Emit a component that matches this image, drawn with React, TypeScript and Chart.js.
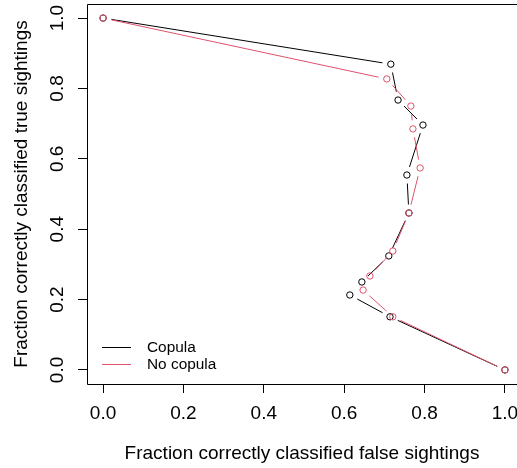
import React, { useEffect, useRef } from "react";
import { Chart, registerables } from "chart.js";

Chart.register(...registerables);

const seriesNames = ["Copula", "No copula"];
const copulaX = [0, 0.716, 0.734, 0.796, 0.756, 0.761, 0.711, 0.644, 0.614, 0.714, 1.0];
const copulaY = [1.0, 0.869, 0.767, 0.696, 0.554, 0.446, 0.324, 0.25, 0.213, 0.151, 0.0];
const noCopulaX = [0, 0.706, 0.766, 0.771, 0.789, 0.761, 0.721, 0.664, 0.647, 0.721, 1.0];
const noCopulaY = [1.0, 0.827, 0.75, 0.685, 0.574, 0.446, 0.338, 0.267, 0.227, 0.151, 0.0];
const xTicks = [0, 0.2, 0.4, 0.6, 0.8, 1.0];
const yTicks = [0, 0.2, 0.4, 0.6, 0.8, 1.0];
const xTitle = "Fraction correctly classified false sightings";
const yTitle = "Fraction correctly classified true sightings";

const FONT = "'Liberation Sans', Arial, Helvetica, sans-serif";
const BLACK = "#000000";
const RED = "#DF536B";

const gapLines = {
  id: "gapLines",
  beforeDatasetDraw(chart: any, args: any) {
    const ds = chart.data.datasets[args.index];
    const pts = args.meta.data;
    const ctx = chart.ctx;
    const gap = 8.5;
    ctx.save();
    ctx.strokeStyle = ds.borderColor;
    ctx.lineWidth = 1;
    for (let i = 0; i < pts.length - 1; i++) {
      const a = pts[i];
      const b = pts[i + 1];
      const dx = b.x - a.x;
      const dy = b.y - a.y;
      const d = Math.hypot(dx, dy);
      if (d <= 2 * gap + 1) continue;
      const ux = dx / d;
      const uy = dy / d;
      ctx.beginPath();
      ctx.moveTo(a.x + ux * gap, a.y + uy * gap);
      ctx.lineTo(b.x - ux * gap, b.y - uy * gap);
      ctx.stroke();
    }
    ctx.restore();
  },
};

const boxAndLegend = {
  id: "boxAndLegend",
  afterDraw(chart: any) {
    const ctx = chart.ctx;
    const { left, top, right, bottom } = chart.chartArea;
    ctx.save();
    ctx.strokeStyle = BLACK;
    ctx.lineWidth = 1;
    ctx.beginPath();
    ctx.moveTo(right + 10, top + 0.5);
    ctx.lineTo(left + 0.5, top + 0.5);
    ctx.lineTo(left + 0.5, bottom + 0.5);
    ctx.lineTo(right + 10, bottom + 0.5);
    ctx.stroke();

    // legend inside plot, bottom-left
    ctx.font = `15.4px ${FONT}`;
    ctx.textBaseline = "middle";
    ctx.textAlign = "left";
    chart.data.datasets.forEach((ds: any, i: number) => {
      const y = bottom - 37 + i * 17;
      ctx.strokeStyle = ds.borderColor;
      ctx.beginPath();
      ctx.moveTo(left + 15, y + 0.5);
      ctx.lineTo(left + 44, y + 0.5);
      ctx.stroke();
      ctx.fillStyle = BLACK;
      ctx.fillText(ds.label, left + 60, y + 1);
    });
    ctx.restore();
  },
};

function toPoints(xs: number[], ys: number[]) {
  return xs.map((x, i) => ({ x, y: ys[i] }));
}

export default function App() {
  const ref = useRef<HTMLCanvasElement | null>(null);

  useEffect(() => {
    document.body.style.margin = "0";
    const canvas = ref.current;
    if (!canvas) return;
    const chart = new Chart(canvas, {
      type: "scatter",
      data: {
        datasets: [
          {
            label: seriesNames[0],
            data: toPoints(copulaX, copulaY),
            borderColor: BLACK,
            backgroundColor: "rgba(0,0,0,0)",
            pointRadius: 3.2,
            pointBorderWidth: 1,
            pointHoverRadius: 3.2,
            showLine: false,
            order: 1,
          },
          {
            label: seriesNames[1],
            data: toPoints(noCopulaX, noCopulaY),
            borderColor: RED,
            backgroundColor: "rgba(0,0,0,0)",
            pointRadius: 3.2,
            pointBorderWidth: 1,
            pointHoverRadius: 3.2,
            showLine: false,
            order: 0,
          },
        ],
      },
      options: {
        responsive: false,
        animation: false,
        events: [],
        layout: { autoPadding: false, padding: { left: 0, top: 4, right: 0, bottom: 0 } },
        plugins: {
          legend: { display: false },
          tooltip: { enabled: false },
        },
        scales: {
          x: {
            type: "linear",
            position: "bottom",
            min: -0.04,
            max: 1.03,
            afterBuildTicks: (s: any) => {
              s.ticks = xTicks.map((v) => ({ value: v }));
            },
            afterFit: (s: any) => {
              s.height = 84;
              s.paddingLeft = 0;
              s.paddingRight = 0;
            },
            grid: {
              drawOnChartArea: false,
              drawTicks: true,
              tickLength: 9,
              color: BLACK,
              lineWidth: 1,
            },
            border: { display: false },
            ticks: {
              autoSkip: false,
              maxRotation: 0,
              padding: 9,
              color: BLACK,
              font: { family: FONT, size: 19 },
              callback: (v: any) => Number(v).toFixed(1),
            },
            title: {
              display: true,
              text: xTitle,
              color: BLACK,
              font: { family: FONT, size: 19 },
              padding: { top: 0, bottom: 2.5 },
            },
          },
          y: {
            type: "linear",
            position: "left",
            min: -0.04,
            max: 1.04,
            afterBuildTicks: (s: any) => {
              s.ticks = yTicks.map((v) => ({ value: v }));
            },
            afterFit: (s: any) => {
              s.width = 87;
              s.paddingTop = 0;
              s.paddingBottom = 0;
            },
            grid: {
              drawOnChartArea: false,
              drawTicks: true,
              tickLength: 9,
              color: BLACK,
              lineWidth: 1,
            },
            border: { display: false },
            ticks: {
              autoSkip: false,
              minRotation: 90,
              maxRotation: 90,
              crossAlign: "center",
              padding: 7,
              color: BLACK,
              font: { family: FONT, size: 19 },
              callback: (v: any) => Number(v).toFixed(1),
            },
            title: {
              display: true,
              text: yTitle,
              color: BLACK,
              font: { family: FONT, size: 19 },
              padding: { top: 10, bottom: 0 },
            },
          },
        },
      },
      plugins: [gapLines, boxAndLegend],
    } as any);
    return () => chart.destroy();
  }, []);

  return (
    <div style={{ width: 517, height: 468, background: "#fff" }}>
      <canvas ref={ref} width={517} height={468} style={{ display: "block" }} />
    </div>
  );
}
